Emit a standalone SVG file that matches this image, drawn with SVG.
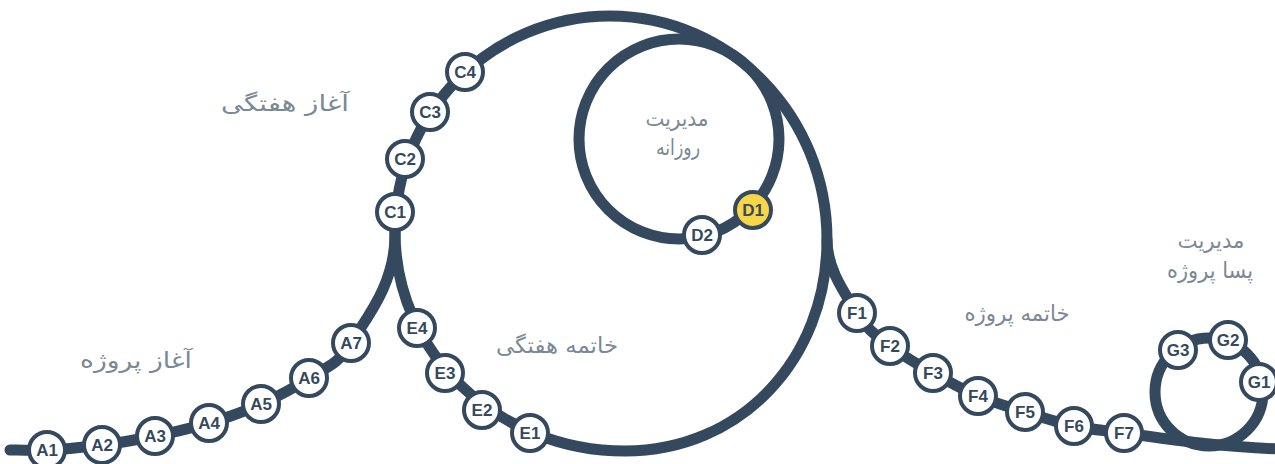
<svg xmlns="http://www.w3.org/2000/svg" width="1275" height="464" viewBox="0 0 1275 464">
<style>
.track{fill:none;stroke:#34495e;stroke-width:11;stroke-linecap:round;stroke-linejoin:round}
.node circle{fill:#ffffff;stroke:#34495e;stroke-width:4}
.node text{font-family:"Liberation Sans",Arial,sans-serif;font-weight:bold;font-size:17px;fill:#34495e;text-anchor:middle;dominant-baseline:central}
.node.hl circle{fill:#f9d548}
.lbl{font-family:"DejaVu Sans","Noto Sans",sans-serif;font-size:22px;fill:#7b8896;text-anchor:middle;dominant-baseline:central}
</style>
<rect width="1275" height="464" fill="#ffffff"/>
<g id="connectors">
<path class="track" d="M 10 450 C 16.2 450, 31.7 450.8, 47 450 C 62.3 449.2, 84 447.3, 102 445 C 120 442.7, 137.2 439.7, 155 436 C 172.8 432.3, 191.3 428.3, 209 423 C 226.7 417.7, 244.3 411.5, 261 404 C 277.7 396.5, 294 388.2, 309 378 C 324 367.8, 336.7 366.8, 351 343 C 365.3 319.2, 395 285, 395 235 L 395 212"/>
<path class="track" d="M 395 232 C 395 113, 491 16, 610 16 C 730 16, 827 116, 827 240 C 827 360, 740 451, 625 451 C 498 451, 395 353, 395 232 Z"/>
<circle class="track" cx="679" cy="139" r="100"/>
<path class="track" d="M 827 240 C 827 270, 846.5 295.3, 857 313 C 867.5 330.7, 877.3 336, 890 346 C 902.7 356, 918.3 364.7, 933 373 C 947.7 381.3, 962.7 389.5, 978 396 C 993.3 402.5, 1009 407, 1025 412 C 1041 417, 1057.5 422.5, 1074 426 C 1090.5 429.5, 1103 430.2, 1124 433 C 1145 435.8, 1174 440.3, 1200 443 C 1226 445.7, 1267 448.5, 1280 449"/>
<circle class="track" cx="1209" cy="392" r="54"/>
</g>
<g id="labels">
<text class="lbl" x="285" y="103" textLength="128" lengthAdjust="spacingAndGlyphs">آغاز هفتگی</text>
<text class="lbl" x="136" y="360" textLength="112" lengthAdjust="spacingAndGlyphs">آغاز پروژه</text>
<text class="lbl" x="677" y="118" textLength="63" lengthAdjust="spacingAndGlyphs">مدیریت</text>
<text class="lbl" x="678" y="147" textLength="44" lengthAdjust="spacingAndGlyphs">روزانه</text>
<text class="lbl" x="557" y="345" textLength="122" lengthAdjust="spacingAndGlyphs">خاتمه هفتگی</text>
<text class="lbl" x="1017" y="313" textLength="105" lengthAdjust="spacingAndGlyphs">خاتمه پروژه</text>
<text class="lbl" x="1211" y="240" textLength="67" lengthAdjust="spacingAndGlyphs">مدیریت</text>
<text class="lbl" x="1210" y="270" textLength="86" lengthAdjust="spacingAndGlyphs">پسا پروژه</text>
</g>
<g id="A1" class="node"><circle cx="47" cy="450" r="18"/><text x="47" y="450">A1</text></g>
<g id="A2" class="node"><circle cx="102" cy="445" r="18"/><text x="102" y="445">A2</text></g>
<g id="A3" class="node"><circle cx="155" cy="436" r="18"/><text x="155" y="436">A3</text></g>
<g id="A4" class="node"><circle cx="209" cy="423" r="18"/><text x="209" y="423">A4</text></g>
<g id="A5" class="node"><circle cx="261" cy="404" r="18"/><text x="261" y="404">A5</text></g>
<g id="A6" class="node"><circle cx="309" cy="378" r="18"/><text x="309" y="378">A6</text></g>
<g id="A7" class="node"><circle cx="351" cy="343" r="18"/><text x="351" y="343">A7</text></g>
<g id="C1" class="node"><circle cx="395" cy="212" r="18"/><text x="395" y="212">C1</text></g>
<g id="C2" class="node"><circle cx="405" cy="159" r="18"/><text x="405" y="159">C2</text></g>
<g id="C3" class="node"><circle cx="430" cy="112" r="18"/><text x="430" y="112">C3</text></g>
<g id="C4" class="node"><circle cx="465" cy="72" r="18"/><text x="465" y="72">C4</text></g>
<g id="D1" class="node hl"><circle cx="753" cy="210" r="18"/><text x="753" y="210">D1</text></g>
<g id="D2" class="node"><circle cx="702" cy="235" r="18"/><text x="702" y="235">D2</text></g>
<g id="E4" class="node"><circle cx="417" cy="328" r="18"/><text x="417" y="328">E4</text></g>
<g id="E3" class="node"><circle cx="445" cy="373" r="18"/><text x="445" y="373">E3</text></g>
<g id="E2" class="node"><circle cx="482" cy="410" r="18"/><text x="482" y="410">E2</text></g>
<g id="E1" class="node"><circle cx="530" cy="433" r="18"/><text x="530" y="433">E1</text></g>
<g id="F1" class="node"><circle cx="857" cy="313" r="18"/><text x="857" y="313">F1</text></g>
<g id="F2" class="node"><circle cx="890" cy="346" r="18"/><text x="890" y="346">F2</text></g>
<g id="F3" class="node"><circle cx="933" cy="373" r="18"/><text x="933" y="373">F3</text></g>
<g id="F4" class="node"><circle cx="978" cy="396" r="18"/><text x="978" y="396">F4</text></g>
<g id="F5" class="node"><circle cx="1025" cy="412" r="18"/><text x="1025" y="412">F5</text></g>
<g id="F6" class="node"><circle cx="1074" cy="426" r="18"/><text x="1074" y="426">F6</text></g>
<g id="F7" class="node"><circle cx="1124" cy="433" r="18"/><text x="1124" y="433">F7</text></g>
<g id="G3" class="node"><circle cx="1178" cy="350" r="18"/><text x="1178" y="350">G3</text></g>
<g id="G2" class="node"><circle cx="1228" cy="340" r="18"/><text x="1228" y="340">G2</text></g>
<g id="G1" class="node"><circle cx="1259" cy="382" r="18"/><text x="1259" y="382">G1</text></g>
</svg>
